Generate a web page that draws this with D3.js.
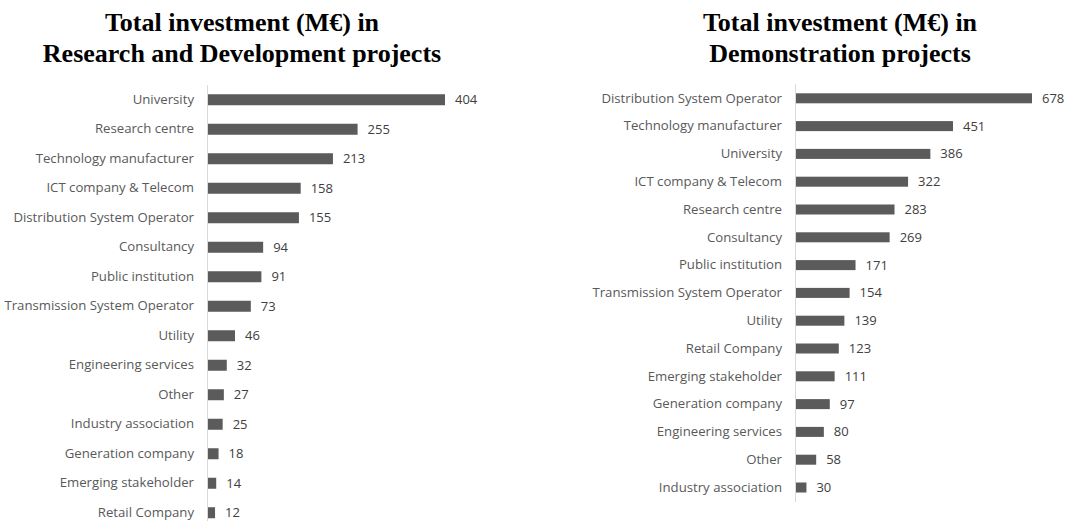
<!DOCTYPE html>
<html>
<head>
<meta charset="utf-8">
<script src="https://cdn.jsdelivr.net/npm/d3@7"></script>
<style>
  html, body { margin: 0; padding: 0; background: #ffffff; }
  svg { display: block; }
  .title { font-family: "Liberation Serif", "DejaVu Serif", serif; font-weight: bold; fill: #000; }
  .cat text { font-family: "Open Sans", "Liberation Sans", sans-serif; fill: #595959; }
  .val { font-family: "Open Sans", "Liberation Sans", sans-serif; fill: #404040; }
</style>
</head>
<body>
<svg id="chart" width="1066" height="521"></svg>
<script>
// Research and Development projects
const rdCategories = [
  "University", "Research centre", "Technology manufacturer", "ICT company & Telecom",
  "Distribution System Operator", "Consultancy", "Public institution",
  "Transmission System Operator", "Utility", "Engineering services", "Other",
  "Industry association", "Generation company", "Emerging stakeholder", "Retail Company"
];
const rdValues = [404, 255, 213, 158, 155, 94, 91, 73, 46, 32, 27, 25, 18, 14, 12];

// Demonstration projects
const demoCategories = [
  "Distribution System Operator", "Technology manufacturer", "University",
  "ICT company & Telecom", "Research centre", "Consultancy", "Public institution",
  "Transmission System Operator", "Utility", "Retail Company", "Emerging stakeholder",
  "Generation company", "Engineering services", "Other", "Industry association"
];
const demoValues = [678, 451, 386, 322, 283, 269, 171, 154, 139, 123, 111, 97, 80, 58, 30];

const rdTitle = ["Total investment (M\u20AC) in", "Research and Development projects"];
const demoTitle = ["Total investment (M\u20AC) in", "Demonstration projects"];

const svg = d3.select("#chart");

function drawPanel(cfg) {
  const g = svg.append("g");
  const data = cfg.categories.map((c, i) => ({ cat: c, v: cfg.values[i] }));

  const x = d3.scaleLinear()
    .domain([0, d3.max(cfg.values)])
    .range([cfg.x0, cfg.x0 + cfg.maxLen]);

  const y = d3.scaleBand()
    .domain(cfg.categories)
    .range([cfg.y0, cfg.y0 + cfg.step * cfg.categories.length])
    .paddingInner(cfg.pad)
    .paddingOuter(cfg.pad / 2);

  // title
  const t = g.append("text")
    .attr("class", "title")
    .attr("text-anchor", "middle")
    .attr("x", cfg.titleX)
    .attr("y", 31)
    .style("font-size", "26px");
  cfg.title.forEach((line, i) => {
    t.append("tspan").attr("x", cfg.titleX).attr("dy", i === 0 ? 0 : 31).text(line);
  });

  // bars
  g.selectAll("rect.bar")
    .data(data)
    .join("rect")
    .attr("class", "bar")
    .attr("x", x(0))
    .attr("y", d => y(d.cat))
    .attr("width", d => x(d.v) - x(0))
    .attr("height", y.bandwidth())
    .attr("fill", "#5b5b5b");

  // category axis
  const axis = d3.axisLeft(y).tickSize(0).tickPadding(13);
  const ag = g.append("g")
    .attr("class", "cat")
    .attr("transform", `translate(${x(0) - 1},0)`)
    .call(axis);
  ag.select(".domain").attr("stroke", "#d9d9d9").attr("stroke-width", 1)
    .attr("d", `M0.5,${cfg.y0}V${cfg.axisEnd}`);
  ag.selectAll(".tick text").style("font-size", "13.2px");

  // value labels
  g.selectAll("text.val")
    .data(data)
    .join("text")
    .attr("class", "val")
    .attr("x", d => x(d.v) + 10)
    .attr("y", d => y(d.cat) + y.bandwidth() / 2)
    .attr("dy", "0.35em")
    .style("font-size", "13px")
    .text(d => d.v);
}

drawPanel({
  categories: rdCategories, values: rdValues, title: rdTitle,
  titleX: 242, x0: 208, maxLen: 237, y0: 85, step: 29.5, pad: 0.627, axisEnd: 521
});

drawPanel({
  categories: demoCategories, values: demoValues, title: demoTitle,
  titleX: 840, x0: 796, maxLen: 236, y0: 84.4, step: 27.8, pad: 0.64, axisEnd: 502
});
</script>
</body>
</html>
